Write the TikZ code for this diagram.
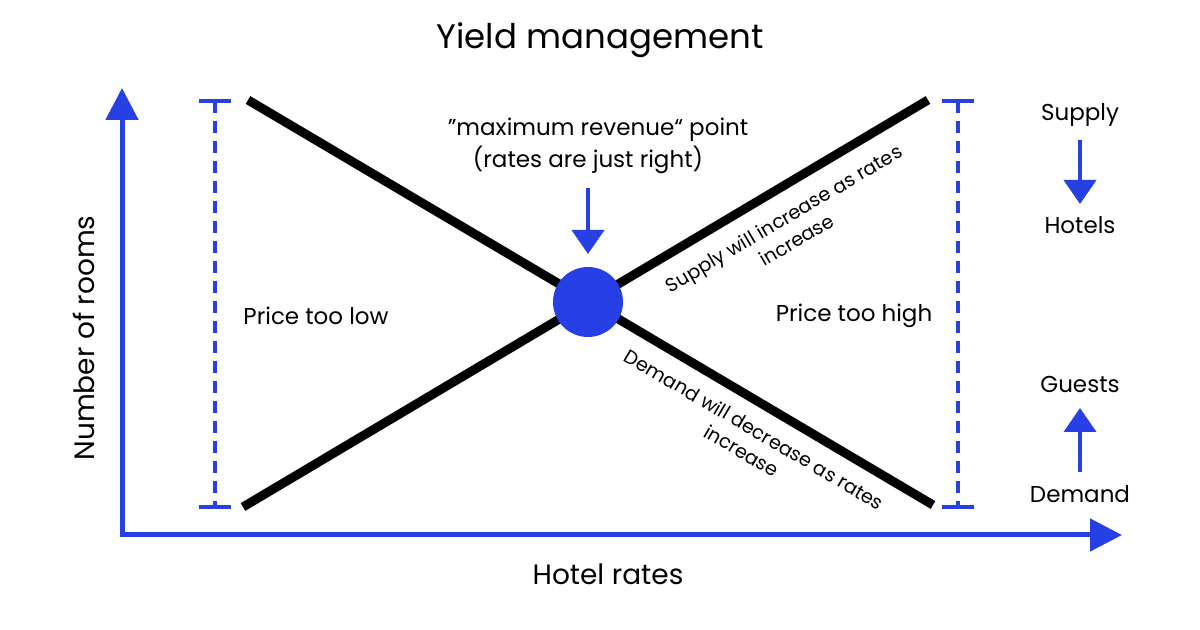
\documentclass[tikz,border=0pt]{standalone}
\usepackage{fontspec}
\setmainfont{Poppins}
\usetikzlibrary{arrows.meta,calc}
\definecolor{axisblue}{RGB}{38,64,230}
\tikzset{every picture/.style={line width=0.75pt}}
\tikzset{
  axis/.style={draw=axisblue, line width=2.5pt, -{Triangle[length=16pt,width=16pt]}},
  bar/.style={draw=axisblue, line width=2pt, dash pattern=on 6pt off 4pt},
  barend/.style={draw=axisblue, line width=2pt},
  curve/.style={draw=black, line width=4.5pt},
  pointer/.style={draw=axisblue, line width=2pt, -{Triangle[length=12pt,width=16pt]}},
  label/.style={font=\fontsize{11.5}{13}\selectfont, inner sep=0pt},
  small/.style={font=\fontsize{9.6}{12.5}\selectfont, align=center, inner sep=0pt}
}
\begin{document}
\begin{tikzpicture}[x=0.5pt,y=0.5pt,yscale=-1,xscale=1]
\useasboundingbox (0,0) rectangle (1200,630);

% Axes
\coordinate (origin) at (122,535);
\coordinate (ytip) at (122,88);
\coordinate (xtip) at (1122,535);
\draw [axis] ($(origin)+(0,2.5)$) -- (ytip);
\draw [axis] ($(origin)+(-2.5,0)$) -- (xtip);

% Dashed bars
\foreach \n/\x in {lo/215,hi/958}{
  \coordinate (\n top) at (\x,101);
  \coordinate (\n bot) at (\x,507);
  \draw [bar] (\n top) -- (\n bot);
  \draw [barend] ($(\n top)+(-16,0)$) -- ($(\n top)+(16,0)$);
  \draw [barend] ($(\n bot)+(-16,0)$) -- ($(\n bot)+(16,0)$);
}

% Supply and demand lines
\coordinate (demand start) at (248,100);
\coordinate (demand end) at (933,505);
\coordinate (supply start) at (243,507);
\coordinate (supply end) at (928,100);
\draw [curve] (demand start) -- (demand end);
\draw [curve] (supply start) -- (supply end);

% Equilibrium point
\node (eq) [circle, fill=axisblue, minimum size=35pt, inner sep=0pt] at (588,302) {};

% Text Node
\node (title) [font=\fontsize{17}{20}\selectfont] at (600,40) {Yield management};
\node (max) [label] at (598,130) {”maximum revenue“ point};
\node (right) [label] at (588,160) {(rates are just right)};
\coordinate (eqtop) at (588,254);
\draw [pointer] (588,188) -- (eqtop);
\node (low) [label] at (316,316) {Price too low};
\node (high) [label] at (854,316) {Price too high};
\node (supplytxt) [small, rotate=30.5] at (790,229) {Supply will increase as rates\\increase};
\node (demandtxt) [small, rotate=-30.5] at (748,440) {Demand will decrease as rates\\increase};
\node (ylab) [font=\fontsize{14}{16}\selectfont, rotate=90] at (84,338) {Number of rooms};
\node (xlab) [font=\fontsize{14}{16}\selectfont] at (608,574) {Hotel rates};

% Legend
\node (supply) [label] at (1080,115) {Supply};
\node (hotels) [label] at (1080,225) {Hotels};
\node (guests) [label] at (1080,384) {Guests};
\node (demand) [label] at (1080,494) {Demand};
\coordinate (supply tail) at (1080,140);
\coordinate (hotels head) at (1080,204);
\coordinate (demand tail) at (1080,472);
\coordinate (guests head) at (1080,408);
\draw [pointer] (supply tail) -- (hotels head);
\draw [pointer] (demand tail) -- (guests head);

\end{tikzpicture}
\end{document}
